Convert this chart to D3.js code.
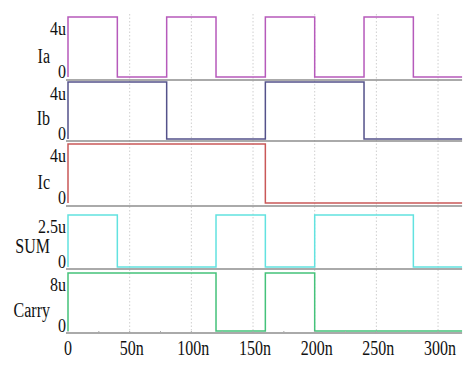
<!DOCTYPE html>
<html><head><meta charset="utf-8">
<script src="https://cdn.jsdelivr.net/npm/d3@7"></script>
<style>body{margin:0;background:#fff}svg{display:block}text{font-family:"Liberation Serif","Times New Roman",serif;fill:#111}</style>
</head><body><svg id="c" width="472" height="372"></svg>
<script>
// time breakpoints (ns) and per-interval levels
const edges = [0, 40, 80, 120, 160, 200, 240, 280, 320];
const signalNames = ["Ia", "Ib", "Ic", "SUM", "Carry"];
const Ia    = [4, 0, 4, 0, 4, 0, 4, 0];
const Ib    = [4, 4, 0, 0, 4, 4, 0, 0];
const Ic    = [4, 4, 4, 4, 0, 0, 0, 0];
const SUM   = [2.5, 0, 0, 2.5, 0, 2.5, 2.5, 0];
const Carry = [8, 8, 8, 0, 8, 0, 0, 0];
const topTicks = ["4u", "4u", "4u", "2.5u", "8u"];
const topVals = [4, 4, 4, 2.5, 8];
const xTicks = [0, 50, 100, 150, 200, 250, 300];
const xTickLabels = ["0", "50n", "100n", "150n", "200n", "250n", "300n"];
const tEnd = 319.5;

const series = [Ia, Ib, Ic, SUM, Carry];
const colors = ["#b65abb", "#54528a", "#c95858", "#62e2e0", "#44c27a"];
// panel layout: [y of high level, y of zero level, bottom separator]
const panels = [[17, 77, 80], [82, 139, 141], [144, 203, 206], [215, 267, 269], [273, 331, 333]];

const svg = d3.select("#c");
const x = d3.scaleLinear().domain([0, 320]).range([68, 462.7]);

function label(g, tx, ty, anchor, str, sy) {
  g.append("text").attr("transform", `translate(${tx},${ty}) scale(1,${sy})`)
    .attr("text-anchor", anchor).attr("font-size", 16).text(str);
}

// grid
svg.append("g").selectAll("line").data(xTicks.slice(1)).join("line")
  .attr("x1", d => x(d)).attr("x2", d => x(d)).attr("y1", 14).attr("y2", 333)
  .attr("stroke", "#cfcfcf").attr("stroke-width", 1).attr("stroke-dasharray", "1.5,2");

series.forEach((vals, i) => {
  const [yHi, y0, ySep] = panels[i];
  const y = d3.scaleLinear().domain([0, topVals[i]]).range([y0, yHi]);
  svg.append("line").attr("x1", 66).attr("x2", x(tEnd)).attr("y1", ySep).attr("y2", ySep)
    .attr("stroke", "#8e8e8e").attr("stroke-width", 1.3);
  const pts = [[0, 0]];
  vals.forEach((v, k) => { pts.push([edges[k], v]); pts.push([Math.min(edges[k + 1], tEnd), v]); });
  const line = d3.line().x(d => x(d[0])).y(d => y(d[1]));
  svg.append("path").attr("d", line(pts)).attr("fill", "none")
    .attr("stroke", colors[i]).attr("stroke-width", 1.5);
  label(svg, 66, y(topVals[i]) + 18, "end", topTicks[i], 1.15);
  label(svg, 66, y(0) + 1, "end", "0", 1.2);
  label(svg, 50, y(0) - 14, "end", signalNames[i], 1.35);
});

// x axis minor ticks and labels
svg.append("g").selectAll("line").data(d3.range(0, 320, 25)).join("line")
  .attr("x1", d => x(d)).attr("x2", d => x(d)).attr("y1", 331).attr("y2", 333)
  .attr("stroke", "#aaa");
xTicks.forEach((d, i) => label(svg, x(d) + (d === 0 ? 0 : 2), 355, "middle", xTickLabels[i], 1.3));
</script></body></html>
